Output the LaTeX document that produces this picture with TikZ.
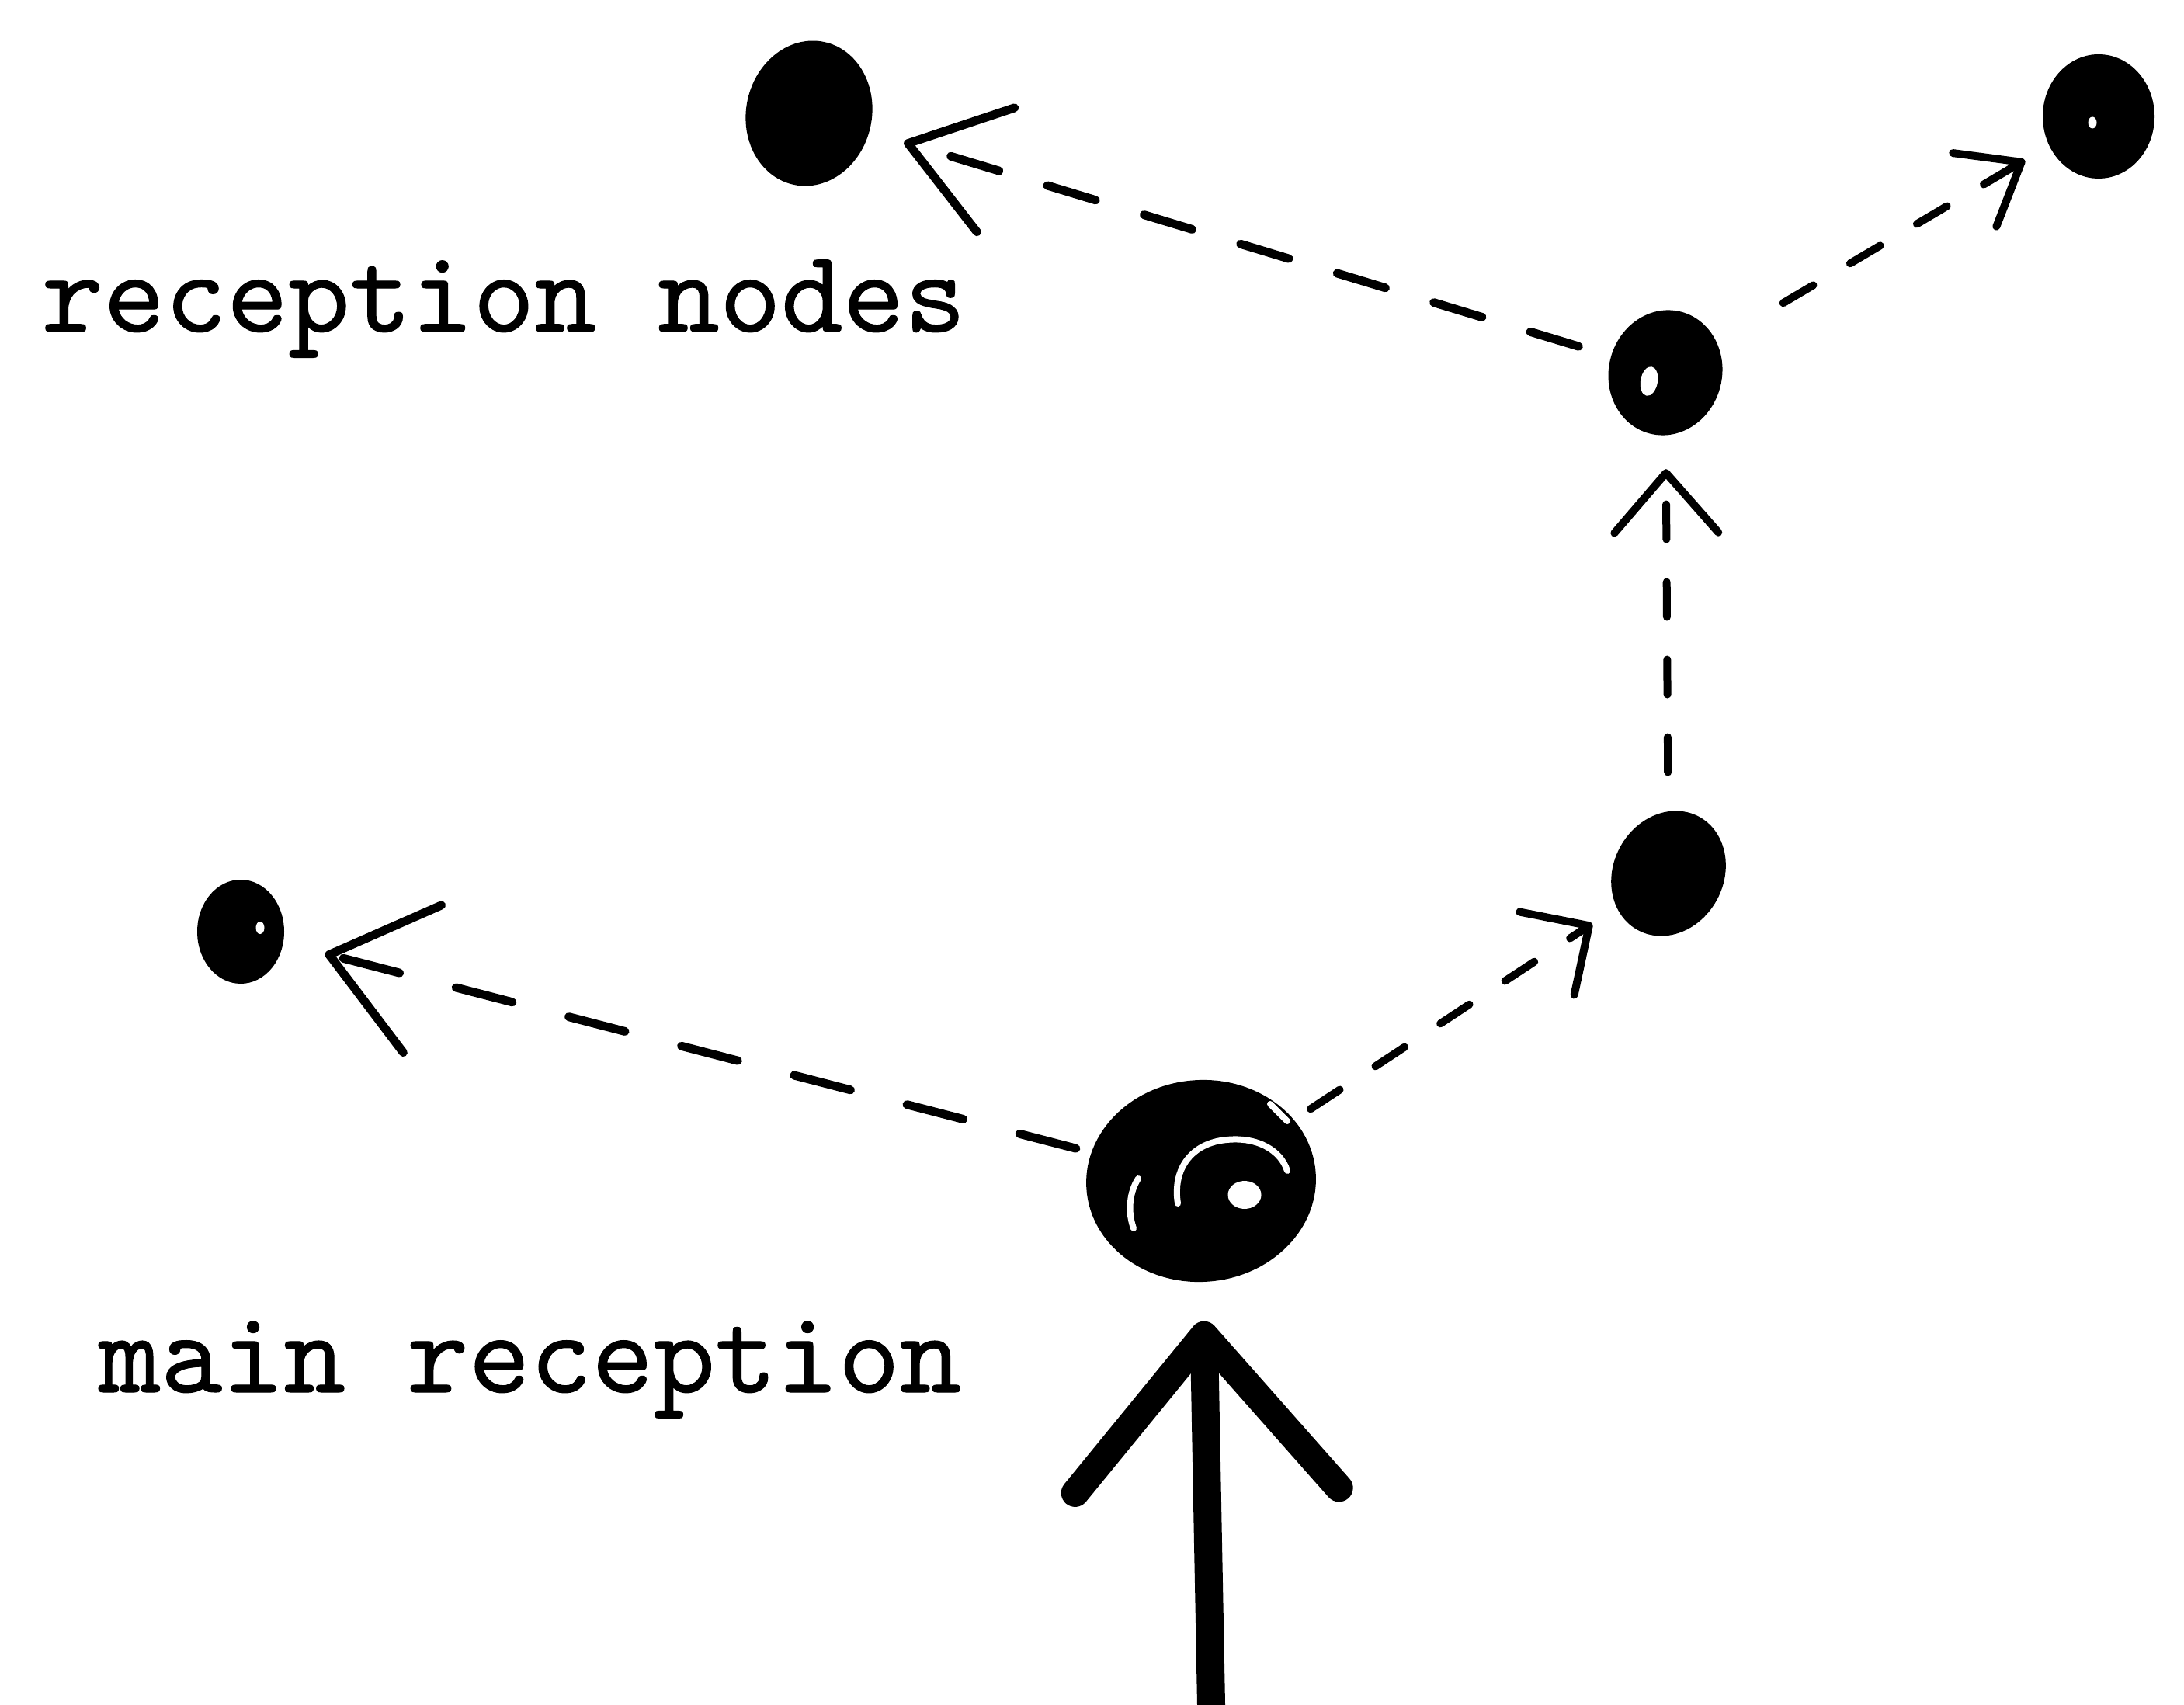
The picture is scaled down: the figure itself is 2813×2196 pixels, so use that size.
\documentclass[tikz,border=0pt]{standalone}
\usepackage{fontspec}
\newfontfamily\typew{lmmono10-regular}[Extension=.otf, FakeBold=0.7]
\usetikzlibrary{arrows.meta,shapes.geometric}
\begin{document}
\begin{tikzpicture}[x=0.1mm,y=-0.1mm,
  blob/.style={ellipse, fill=black, draw=none, inner sep=0pt},
  hole/.style={ellipse, fill=white, draw=none, inner sep=0pt},
  lbl/.style={font=\fontsize{43}{50}\selectfont\typew, anchor=base, inner sep=0pt},
  longdash/.style={line width=1.1mm, dash pattern=on 7.5mm off 7.5mm, line cap=round},
  middash/.style={line width=1.1mm, dash pattern=on 6.5mm off 6.5mm, line cap=round},
  shortdash/.style={line width=1mm, dash pattern=on 4.5mm off 5.5mm, line cap=round},
  swirl/.style={white, line width=0.8mm, line cap=round},
]
\fill[white] (0,0) rectangle (2813,2196);
\useasboundingbox (0,0) rectangle (2813,2196);

% blobs
\node[blob, minimum width=16.2mm, minimum height=18.8mm, rotate=-12] (tl) at (1042,146) {};
\node[blob, minimum width=14.4mm, minimum height=16mm] (tr) at (2703,150) {};
\node[blob, minimum width=14.6mm, minimum height=16.2mm, rotate=-14] (um) at (2145,480) {};
\node[blob, minimum width=16.6mm, minimum height=14.2mm, rotate=62] (mr) at (2149,1125) {};
\node[blob, minimum width=11.2mm, minimum height=13.4mm] (bl) at (310,1200) {};
\node[blob, minimum width=29.6mm, minimum height=26mm, rotate=4] (main) at (1547,1521) {};

% small white spots
\node[hole, minimum width=1.1mm, minimum height=1.5mm] (trh) at (2695,158) {};
\node[hole, minimum width=1.1mm, minimum height=1.6mm] (blh) at (335,1195) {};
\node[hole, minimum width=2.2mm, minimum height=3.8mm, rotate=-10] (umh) at (2124,491) {};
\node[hole, minimum width=4.3mm, minimum height=3.6mm] (mainh) at (1603,1539) {};

% swirl inside main reception
\draw[swirl] (1460,1582) .. controls (1452,1560) and (1455,1535) .. (1466,1518);
\draw[swirl] (1517,1550) .. controls (1510,1505) and (1535,1472) .. (1580,1468)
             .. controls (1620,1464) and (1650,1482) .. (1658,1508);
\draw[swirl] (1636,1422) -- (1658,1444);

% labels
\node[lbl] (rnlabel) at (649,427) {reception nodes};
\node[lbl] (mrlabel) at (683,1793) {main reception};

% connectors
\draw[longdash, shorten <=2mm, shorten >=5.5mm,
      -{Straight Barb[length=12.4mm, width=19.6mm, round]}] (main) -- (bl);
\draw[shortdash, shorten <=2.5mm, shorten >=3.7mm,
      -{Straight Barb[length=6.5mm, width=12.8mm, round]}] (main) -- (mr);
\draw[shortdash, shorten <=5mm, shorten >=4.3mm,
      -{Straight Barb[length=7.7mm, width=13.4mm, round]}] (mr) -- (um);
\draw[middash, shorten <=4.3mm, shorten >=4.6mm,
      -{Straight Barb[length=11.8mm, width=16.7mm, round]}] (um) -- (tl);
\draw[shortdash, shorten <=9.9mm, shorten >=3.6mm,
      -{Straight Barb[length=7mm, width=11mm, round]}] (um) -- (tr);

% entry arrow
\coordinate (entry) at (1562,2300);
\draw[line width=3.6mm, shorten >=5mm,
      -{Straight Barb[length=20mm, width=34mm, round]}] (entry) -- (main);
\end{tikzpicture}
\end{document}
